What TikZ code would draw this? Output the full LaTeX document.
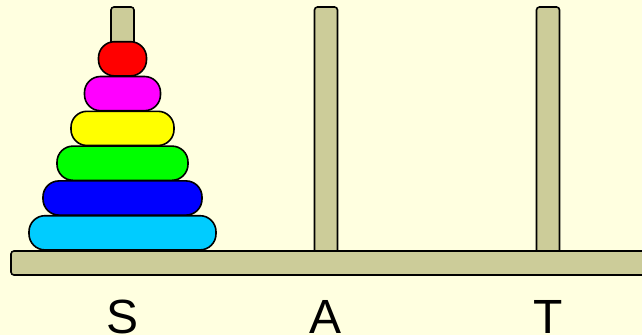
\documentclass[tikz,border=0pt]{standalone}
\usepackage{fontspec}
\setmainfont{Liberation Sans}
\usetikzlibrary{positioning}
\definecolor{bgyellow}{HTML}{FFFFE0}
\definecolor{pegkhaki}{HTML}{CCCC99}
\definecolor{diskred}{HTML}{FF0000}
\definecolor{diskmagenta}{HTML}{FF00FF}
\definecolor{diskyellow}{HTML}{FFFF00}
\definecolor{diskgreen}{HTML}{00FF00}
\definecolor{diskblue}{HTML}{0000FF}
\definecolor{diskcyan}{HTML}{00CCFF}

\begin{document}
\begin{tikzpicture}[x=1pt, y=-1pt,
  peg/.style={fill=pegkhaki, draw=black, line width=1.6pt, rounded corners=3pt},
  disk/.style={draw=black, line width=1.6pt, rounded corners=16pt},
  pegname/.style={font=\fontsize{48}{48}\selectfont, anchor=base, inner sep=0pt}]

  % Background and frame
  \fill[bgyellow] (0,0) rectangle (642,335);
  \useasboundingbox (0,0) rectangle (642,335);
  \clip (0,0) rectangle (642,335);

  % Peg centres
  \coordinate (S) at (122.5,0);
  \coordinate (A) at (326,0);
  \coordinate (T) at (548,0);

  % Draw the three pegs
  \foreach \p in {S,A,T} {
    \draw[peg] ([xshift=-11.5pt,yshift=-7pt]\p) rectangle ([xshift=11.5pt,yshift=-253pt]\p);
  }

  % Draw the base board (runs off the right edge)
  \draw[peg] (11,251) rectangle (660,275);

  % Disks on peg S, smallest on top
  \foreach \w/\c [count=\i] in {48/diskred, 76/diskmagenta, 103/diskyellow, 131/diskgreen, 159/diskblue, 187/diskcyan} {
    \filldraw[disk, fill=\c] ([xshift=-\w/2*1pt, yshift={-(6.9+34.8*\i)*1pt}]S)
      rectangle ([xshift=\w/2*1pt, yshift={-(6.9+34.8*\i+34.2)*1pt}]S);
  }

  % Peg names
  \node[pegname] (labS) at (122.5,333) {S};
  \node[pegname] (labA) at (326,333) {A};
  \node[pegname] (labT) at (548,333) {T};
\end{tikzpicture}
\end{document}
